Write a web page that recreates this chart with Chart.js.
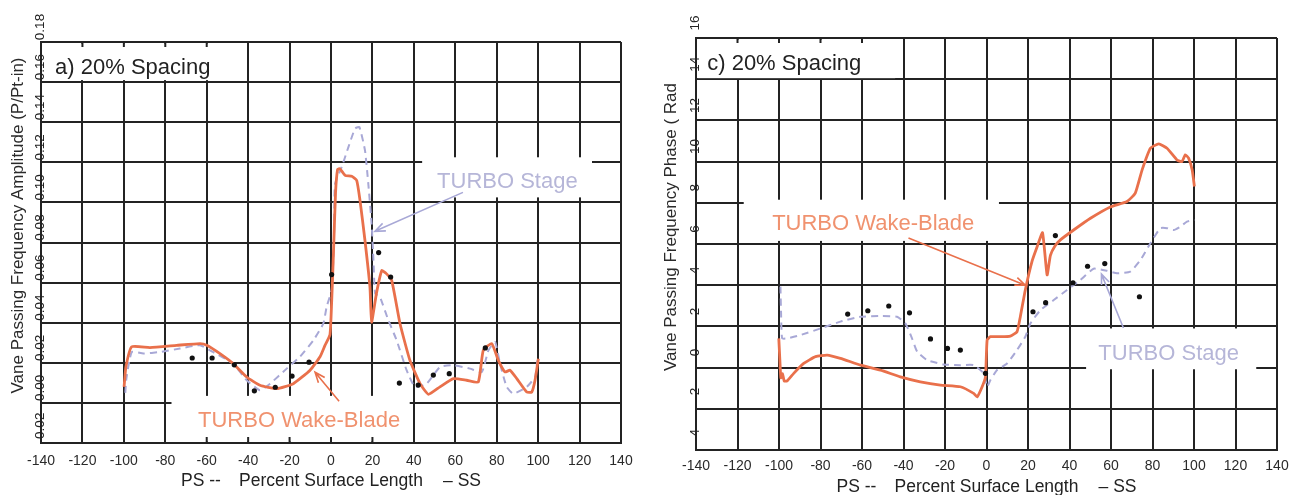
<!DOCTYPE html>
<html>
<head>
<meta charset="utf-8">
<title>Vane passing frequency – 20% spacing</title>
<script src="https://cdn.jsdelivr.net/npm/chart.js@4.4.1/dist/chart.umd.min.js"></script>
<style>
  html, body { margin: 0; padding: 0; background: #fff; }
  canvas { position: absolute; top: 0; }
  #ampChart { left: 0; }
  #phaseChart { left: 646px; }
</style>
</head>
<body>
<canvas id="ampChart" width="645" height="495"></canvas>
<canvas id="phaseChart" width="645" height="495"></canvas>
<script>
/* ---- Tick labels ---- */
const xTicks = ['-140', '-120', '-100', '-80', '-60', '-40', '-20', '0', '20', '40', '60', '80', '100', '120', '140'];
const ampTicks = ['-0.02', '0.00', '0.02', '0.04', '0.06', '0.08', '0.10', '0.12', '0.14', '0.16', '0.18'];
const phaseTicks = ['-4', '-2', '0', '2', '4', '6', '8', '10', '12', '14', '16'];

/* ---- a) amplitude, [surface %, P/Pt-in] ---- */
const ampBlade = [
  [-99.9, 0.008], [-99.0, 0.018], [-96.2, 0.028], [-87.4, 0.0276], [-74.5, 0.0287],
  [-63.2, 0.0296], [-60.0, 0.0288], [-53.6, 0.0246], [-47.2, 0.0196], [-40.7, 0.0129],
  [-34.3, 0.0088], [-26.2, 0.0071], [-18.2, 0.0096], [-10.1, 0.0163], [-5.3, 0.023],
  [-2.9, 0.0287], [-0.5, 0.034], [0.3, 0.05], [1.2, 0.075], [2.2, 0.105],
  [3.2, 0.1165], [4.3, 0.1168], [6.8, 0.1135], [10.0, 0.113], [12.4, 0.111],
  [14.0, 0.101], [16.4, 0.081], [18.8, 0.0578], [19.6, 0.0403], [22.0, 0.055],
  [24.5, 0.066], [26.6, 0.0646], [29.3, 0.0611], [33.3, 0.0396], [38.1, 0.0212],
  [43.0, 0.0096], [47.0, 0.0043], [52.6, 0.008], [59.1, 0.0121], [65.5, 0.0113],
  [71.1, 0.0104], [73.5, 0.0262], [77.6, 0.0296], [80.8, 0.0212], [84.0, 0.0154],
  [86.4, 0.0163], [89.7, 0.0121], [94.5, 0.0054], [96.9, 0.0054], [98.5, 0.0113],
  [100.1, 0.022]
];
const ampStage = [
  [-99.3, 0.005], [-98.8, 0.012], [-96.2, 0.0254], [-90.6, 0.0246], [-82.6, 0.0254],
  [-72.9, 0.0271], [-63.2, 0.0288], [-57.0, 0.0254], [-47.2, 0.0196], [-40.7, 0.0113],
  [-34.3, 0.0063], [-29.4, 0.0096], [-21.4, 0.0171], [-15.0, 0.023], [-8.5, 0.0312],
  [-3.7, 0.0396], [-2.1, 0.048], [0.3, 0.0562], [1.1, 0.0711], [1.5, 0.0844],
  [1.9, 0.109], [5.2, 0.1177], [8.4, 0.1276], [11.6, 0.1368], [13.7, 0.1376],
  [16.4, 0.126], [18.0, 0.1094], [19.6, 0.0894], [20.5, 0.0711], [21.3, 0.0545],
  [23.6, 0.0528], [27.7, 0.0412], [31.7, 0.0312], [36.5, 0.0163], [40.5, 0.008],
  [46.2, 0.0096], [52.6, 0.0179], [59.1, 0.0188], [67.1, 0.0171], [72.8, 0.0154],
  [76.0, 0.0262], [79.2, 0.0304], [81.6, 0.0196], [84.8, 0.008], [88.0, 0.0046],
  [94.5, 0.008], [98.5, 0.0129], [99.6, 0.0212]
];
const ampMeasured = [
  [-67.0, 0.0224], [-57.4, 0.0224], [-46.7, 0.019], [-37.0, 0.006], [-26.9, 0.0078],
  [-18.8, 0.0134], [-10.6, 0.0203], [0.3, 0.064], [23.0, 0.075], [28.8, 0.0628],
  [33.0, 0.0099], [42.1, 0.0089], [49.4, 0.0139], [57.1, 0.0146], [74.5, 0.0274]
];

/* ---- c) phase, [surface %, rad] ---- */
const phaseBlade = [
  [-100.1, 1.42], [-99.6, 0.4], [-99.1, -0.5], [-98.3, -0.3], [-97.5, -0.65],
  [-96.1, -0.65], [-92.9, -0.28], [-88.1, 0.2], [-82.4, 0.53], [-76.8, 0.61],
  [-70.4, 0.45], [-60.7, 0.12], [-51.1, -0.12], [-41.5, -0.45], [-31.9, -0.69],
  [-22.2, -0.85], [-12.6, -0.93], [-6.2, -1.25], [-4.5, -1.42], [-2.1, -0.93],
  [-0.5, -0.45], [0.3, 1.34], [1.9, 1.5], [6.7, 1.5], [11.5, 1.53],
  [14.7, 1.74], [16.3, 2.47], [18.7, 3.77], [22.0, 5.18], [24.4, 5.87],
  [27.0, 6.55], [29.2, 4.5], [30.8, 5.45], [33.0, 5.9], [35.6, 6.2],
  [42.0, 6.68], [50.1, 7.25], [59.7, 7.8], [67.7, 8.06], [71.7, 8.47],
  [75.0, 9.6], [79.0, 10.65], [83.0, 10.86], [87.0, 10.65], [91.8, 10.08],
  [94.2, 10.0], [95.8, 10.33], [97.4, 10.17], [99.1, 9.6], [100.2, 8.79]
];
const phaseStage = [
  [-99.3, 3.93], [-99.0, 2.63], [-98.5, 1.42], [-96.1, 1.42], [-89.7, 1.58],
  [-80.0, 1.9], [-70.4, 2.23], [-60.7, 2.47], [-51.1, 2.5], [-43.1, 2.47],
  [-39.1, 2.15], [-35.9, 1.42], [-33.4, 0.77], [-28.6, 0.36], [-20.6, 0.15],
  [-12.6, 0.12], [-6.2, 0.12], [-1.3, -0.28], [0.3, -0.93], [1.9, -0.6],
  [5.1, -0.12], [9.9, 0.2], [14.7, 0.85], [18.7, 1.5], [21.2, 2.15],
  [26.0, 2.79], [32.4, 3.28], [38.8, 3.77], [45.2, 4.25], [51.6, 4.8],
  [58.1, 4.7], [62.9, 4.58], [69.3, 4.66], [74.2, 5.22], [79.0, 6.04],
  [83.8, 6.77], [87.0, 6.77], [90.2, 6.68], [93.4, 6.84], [96.6, 7.09],
  [100.2, 7.17]
];
const phaseMeasured = [
  [-66.9, 2.6], [-57.2, 2.76], [-47.1, 2.99], [-37.1, 2.66], [-27.0, 1.39],
  [-18.8, 0.93], [-12.6, 0.85], [-0.5, -0.28], [22.4, 2.71], [28.5, 3.15],
  [33.2, 6.41], [41.7, 4.12], [48.7, 4.92], [57.0, 5.05], [73.7, 3.44]
];

// ---- Styles ----
const FONT = '"Liberation Sans", Arial, Helvetica, sans-serif';
const GRID = '#232323';
const BLADE = '#e9704b';
const BLADE_TEXT = '#f0926f';
const STAGE = '#a8a8d6';
const STAGE_TEXT = '#b6b6d8';

// ---- Arrow helper (open V head) ----
function drawArrow(ctx, x0, y0, x1, y1, color) {
  const ang = Math.atan2(y1 - y0, x1 - x0);
  ctx.strokeStyle = color;
  ctx.lineWidth = 1.6;
  ctx.beginPath();
  ctx.moveTo(x0, y0);
  ctx.lineTo(x1, y1);
  ctx.moveTo(x1 - 11 * Math.cos(ang - 0.38), y1 - 11 * Math.sin(ang - 0.38));
  ctx.lineTo(x1, y1);
  ctx.lineTo(x1 - 11 * Math.cos(ang + 0.38), y1 - 11 * Math.sin(ang + 0.38));
  ctx.stroke();
}

// ---- Panel decorations: label masks, tick text, titles, callouts ----
function makeDecor(cfg) {
  return {
    id: 'decor',
    beforeDatasetsDraw(chart) {
      const { ctx, chartArea: a, scales: { x, y } } = chart;
      ctx.save();
      cfg.boxes.forEach((b) => {
        const l = Math.max(x.getPixelForValue(b.x0), a.left + 1.5);
        const r = Math.min(x.getPixelForValue(b.x1), a.right - 1.5);
        const t = Math.max(y.getPixelForValue(b.y1), a.top + 1.5);
        const btm = Math.min(y.getPixelForValue(b.y0), a.bottom - 1.5);
        ctx.fillStyle = '#fff';
        ctx.fillRect(l, t, r - l, btm - t);
        if (!b.edge) return;
        // short tick stubs left on the frame where the grid is masked
        ctx.strokeStyle = GRID;
        ctx.lineWidth = 2;
        const y0 = b.edge === 'top' ? a.top : a.bottom;
        const dy = b.edge === 'top' ? 5 : -6;
        xTicks.forEach((lbl) => {
          const px = x.getPixelForValue(Number(lbl));
          if (px <= l || px >= r) return;
          ctx.beginPath();
          ctx.moveTo(px, y0);
          ctx.lineTo(px, y0 + dy);
          ctx.stroke();
        });
      });
      ctx.restore();
    },
    afterDraw(chart) {
      const { ctx, chartArea: a, scales: { x, y } } = chart;
      ctx.save();

      // y tick labels, rotated and sitting on the axis line
      ctx.fillStyle = '#222';
      ctx.font = '13.5px ' + FONT;
      ctx.textAlign = 'center';
      ctx.textBaseline = 'middle';
      cfg.yTicks.forEach((lbl) => {
        const py = y.getPixelForValue(Number(lbl));
        ctx.save();
        ctx.translate(a.left - 1, py - 15);
        ctx.rotate(-Math.PI / 2);
        ctx.fillText(lbl, 0, 0);
        ctx.restore();
      });

      // x tick labels
      ctx.font = '14px ' + FONT;
      ctx.fillStyle = '#2a2a2a';
      xTicks.forEach((lbl) => {
        ctx.fillText(lbl, x.getPixelForValue(Number(lbl)), a.bottom + cfg.xLabelGap);
      });

      // x axis title
      const cx = (a.left + a.right) / 2;
      const ty = a.bottom + cfg.xTitleGap;
      ctx.font = '17.5px ' + FONT;
      ctx.fillStyle = '#222';
      ctx.fillText('Percent Surface Length', cx, ty);
      ctx.textAlign = 'left';
      ctx.fillText('PS --', cx - 150, ty);
      ctx.textAlign = 'right';
      ctx.fillText('\u2013 SS', cx + 150, ty);

      // y axis title
      ctx.save();
      ctx.translate(a.left - cfg.yTitleGap, (a.top + a.bottom) / 2 - 17);
      ctx.rotate(-Math.PI / 2);
      ctx.textAlign = 'center';
      ctx.font = '17px ' + FONT;
      ctx.fillStyle = '#2a2a2a';
      ctx.fillText(cfg.yTitle, 0, 0);
      ctx.restore();

      // panel label and callouts
      ctx.textAlign = 'left';
      ctx.textBaseline = 'alphabetic';
      ctx.font = '22px ' + FONT;
      cfg.notes.forEach((n) => {
        ctx.fillStyle = n.color;
        ctx.fillText(n.text, x.getPixelForValue(n.x), y.getPixelForValue(n.y));
      });
      cfg.arrows.forEach((ar) => {
        drawArrow(ctx,
          x.getPixelForValue(ar.from[0]), y.getPixelForValue(ar.from[1]),
          x.getPixelForValue(ar.to[0]), y.getPixelForValue(ar.to[1]), ar.color);
      });
      ctx.restore();
    }
  };
}

function buildPanel(canvasId, series, cfg) {
  const toXY = (pts) => pts.map(([px, py]) => ({ x: px, y: py }));
  const axisLook = {
    grid: { color: GRID, lineWidth: 2, drawTicks: false },
    border: { color: GRID, width: 2 }
  };
  return new Chart(document.getElementById(canvasId), {
    type: 'line',
    data: {
      datasets: [
        {
          type: 'scatter',
          data: toXY(series.measured),
          pointRadius: 2.6,
          pointBackgroundColor: '#111',
          pointBorderWidth: 0
        },
        {
          data: toXY(series.blade),
          borderColor: BLADE,
          borderWidth: 2.8,
          pointRadius: 0,
          tension: 0.15
        },
        {
          data: toXY(series.stage),
          borderColor: STAGE,
          borderWidth: 2,
          borderDash: [7, 5],
          pointRadius: 0,
          tension: 0.15
        }
      ]
    },
    options: {
      responsive: false,
      animation: false,
      events: [],
      layout: { padding: cfg.pad },
      plugins: { legend: { display: false }, tooltip: { enabled: false } },
      scales: {
        x: {
          type: 'linear', min: -140, max: 140,
          ticks: { display: false, stepSize: 20 },
          ...axisLook
        },
        y: {
          type: 'linear', min: cfg.yMin, max: cfg.yMax,
          ticks: { display: false, stepSize: cfg.yStep },
          ...axisLook
        }
      }
    },
    plugins: [makeDecor(cfg)]
  });
}

// ---- a) amplitude panel ----
buildPanel('ampChart',
  { blade: ampBlade, stage: ampStage, measured: ampMeasured },
  {
    pad: { left: 41, right: 24, top: 42, bottom: 52 },
    yMin: -0.02, yMax: 0.18, yStep: 0.02,
    yTicks: ampTicks,
    yTitle: 'Vane Passing Frequency Amplitude (P/Pt-in)',
    yTitleGap: 23,
    xLabelGap: 18, xTitleGap: 38,
    boxes: [
      { x0: -140, x1: -44, y0: 0.161, y1: 0.18, edge: 'top' },
      { x0: 44, x1: 126, y0: 0.1025, y1: 0.1225 },
      { x0: -77, x1: 38, y0: -0.02, y1: 0.0035, edge: 'bottom' }
    ],
    notes: [
      { text: 'a) 20% Spacing', x: -133.2, y: 0.1639, color: '#222' },
      { text: 'TURBO Stage', x: 51.2, y: 0.107, color: STAGE_TEXT },
      { text: 'TURBO Wake-Blade', x: -64.2, y: -0.0122, color: BLADE_TEXT }
    ],
    arrows: [
      { from: [63.7, 0.105], to: [21.2, 0.0856], color: STAGE },
      { from: [3.9, 0.0008], to: [-7.7, 0.0153], color: BLADE }
    ]
  });

// ---- c) phase panel ----
buildPanel('phaseChart',
  { blade: phaseBlade, stage: phaseStage, measured: phaseMeasured },
  {
    pad: { left: 50, right: 14, top: 38, bottom: 45 },
    yMin: -4, yMax: 16, yStep: 2,
    yTicks: phaseTicks,
    yTitle: 'Vane Passing Frequency Phase ( Rad',
    yTitleGap: 25,
    xLabelGap: 16, xTitleGap: 37,
    boxes: [
      { x0: -140, x1: -44, y0: 14.05, y1: 16, edge: 'top' },
      { x0: -117, x1: 6, y0: 6.15, y1: 8.15 },
      { x0: 48, x1: 130, y0: -0.08, y1: 1.9 }
    ],
    notes: [
      { text: 'c) 20% Spacing', x: -134.6, y: 14.46, color: '#222' },
      { text: 'TURBO Wake-Blade', x: -103.3, y: 6.68, color: BLADE_TEXT },
      { text: 'TURBO Stage', x: 53.9, y: 0.36, color: STAGE_TEXT }
    ],
    arrows: [
      { from: [-37.6, 6.29], to: [18.7, 4.0], color: BLADE },
      { from: [66, 1.92], to: [55.4, 4.54], color: STAGE }
    ]
  });
</script>
</body>
</html>
